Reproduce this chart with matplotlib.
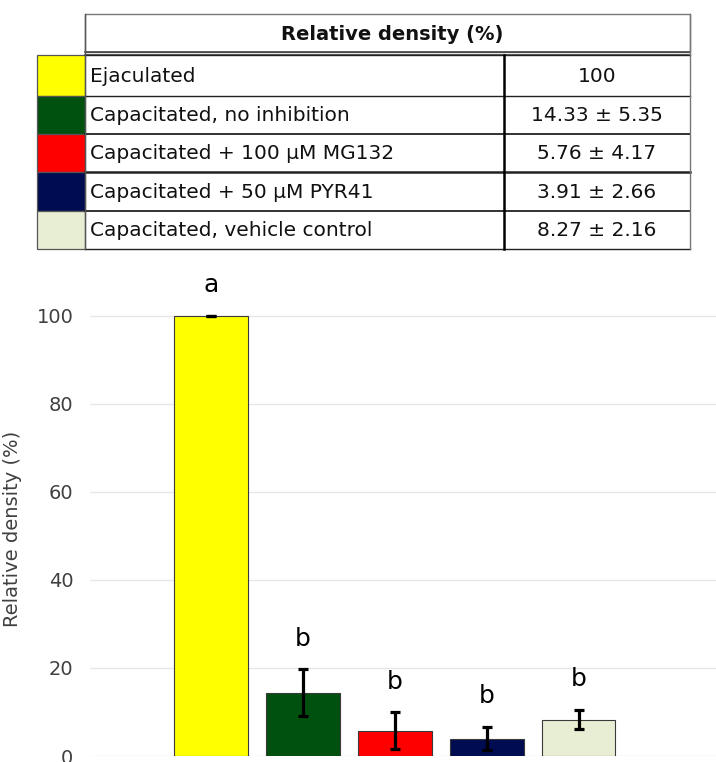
import matplotlib
matplotlib.use("Agg")
import matplotlib.pyplot as plt
from matplotlib.patches import Rectangle

# ---- data ----
categories = ["Ejaculated", "Capacitated, no inhibition", "Capacitated + 100 µM MG132",
              "Capacitated + 50 µM PYR41", "Capacitated, vehicle control"]
means = [100, 14.33, 5.76, 3.91, 8.27]
errors = [0, 5.35, 4.17, 2.66, 2.16]
table_values = ["100", "14.33 ± 5.35", "5.76 ± 4.17", "3.91 ± 2.66", "8.27 ± 2.16"]
letters = ["a", "b", "b", "b", "b"]
colors = ["#ffff00", "#00500f", "#ff0000", "#000c52", "#e8eed4"]
yticks = [0, 20, 40, 60, 80, 100]
ylabel = "Relative density (%)"
table_header = "Relative density (%)"

W, H = 716, 762
fig = plt.figure(figsize=(W / 100, H / 100), dpi=100)

# ---- bar chart ----
ax = fig.add_axes([90 / W, 6 / H, 626 / W, 486 / H])
x = list(range(len(means)))
ax.bar(x, means, width=0.795, color=colors, edgecolor="#3a3a3a", linewidth=0.8, zorder=3)
ax.errorbar(x, means, yerr=errors, fmt="none", ecolor="black", elinewidth=2.3,
            capsize=3.4, capthick=2.3, zorder=4)
for xi, m, e, l in zip(x, means, errors, letters):
    ax.text(xi, m + e + 7, l, ha="center", va="center", fontsize=18, color="black")
ax.set_xlim(-1.315, 5.49)
ax.set_ylim(0, 110.45)
ax.set_yticks(yticks)
ax.set_xticks([])
ax.tick_params(axis="y", length=0, pad=12, labelsize=14, labelcolor="#404040")
ax.grid(axis="y", color="#e6e6e6", linewidth=1.0, zorder=0)
for s in ax.spines.values():
    s.set_visible(False)
ax.set_ylabel(ylabel, fontsize=14, color="#404040")
ax.yaxis.set_label_coords(-0.109, 0.467)

# ---- table (drawn in pixel coordinates) ----
tx = fig.add_axes([0, 0, 1, 1], zorder=5)
tx.set_xlim(0, W)
tx.set_ylim(H, 0)
tx.axis("off")
tx.patch.set_alpha(0)

left, right, col_div = 85, 690, 504
sw_left = 37
head_top, head_bot = 14, 52
row_edges = [55, 95.5, 133.5, 172.3, 210.8, 249]

# header
tx.add_patch(Rectangle((left, head_top), right - left, head_bot - head_top,
                       facecolor="white", edgecolor="#777777", linewidth=1.0))
tx.text((left + right) / 2 + 5, (head_top + head_bot) / 2 + 1, table_header,
        ha="center", va="center", fontsize=14, fontweight="bold", color="#111111")
tx.plot([left, right], [51.5, 51.5], color="#444444", lw=1.2)
tx.plot([left, right], [54.5, 54.5], color="#444444", lw=1.2)

for i, (cat, val, c) in enumerate(zip(categories, table_values, colors)):
    y0, y1 = row_edges[i], row_edges[i + 1]
    tx.add_patch(Rectangle((sw_left, y0), left - sw_left, y1 - y0,
                           facecolor=c, edgecolor="#555555", linewidth=0.9))
    yc = (y0 + y1) / 2 + 1
    tx.text(90, yc, cat, ha="left", va="center", fontsize=14.5, color="#111111")
    tx.text((col_div + right) / 2, yc, val, ha="center", va="center",
            fontsize=14.5, color="#111111")

# row lines
row_lw = [1.0, 1.0, 1.3, 1.8, 1.3, 1.0]
for yv, lw in zip(row_edges, row_lw):
    tx.plot([left, right], [yv, yv], color="#222222", lw=lw)
tx.plot([right, right], [head_top, row_edges[-1]], color="#777777", lw=1.0)
tx.plot([left, left], [head_top, row_edges[-1]], color="#555555", lw=1.0)
tx.plot([col_div, col_div], [row_edges[0], row_edges[-1]], color="black", lw=1.8)

fig.savefig("out.png", dpi=100)
